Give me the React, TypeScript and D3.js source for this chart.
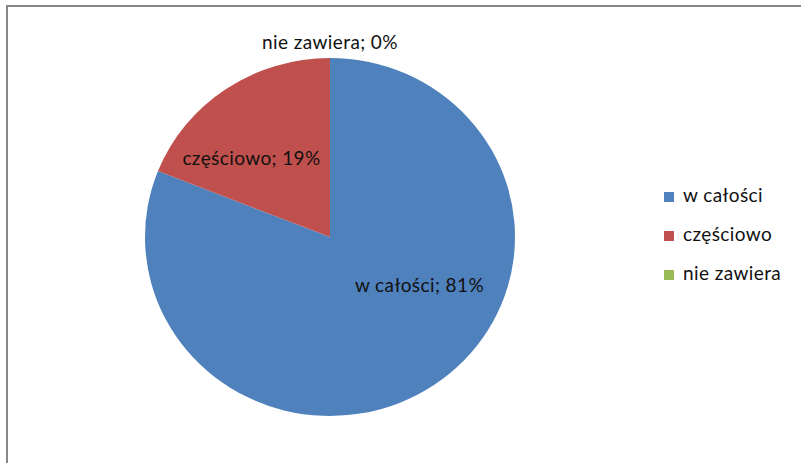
import React from "react";
import * as d3 from "d3";

const categories = ["w całości", "częściowo", "nie zawiera"];
const values = [81, 19, 0];
const percentLabels = ["81%", "19%", "0%"];
const colors = ["#4F81BD", "#C0504D", "#9BBB59"];

const W = 801;
const H = 463;
const cx = 330;
const cy = 237;
const ry = 179;
const rx = 185;

export default function App() {
  const data = categories.map((c, i) => ({ c, v: values[i], p: percentLabels[i], col: colors[i] }));
  const pie = d3.pie<any>().sort(null).value((d) => d.v);
  const arcs = pie(data);
  const arc = d3.arc<any>().innerRadius(0).outerRadius(ry);
  const sx = rx / ry;

  const labelPos = (a: any) => {
    if (a.endAngle - a.startAngle < 1e-6) {
      const ang = a.startAngle;
      return [Math.sin(ang) * (ry + 15) * sx, -Math.cos(ang) * (ry + 15)];
    }
    const mid = (a.startAngle + a.endAngle) / 2;
    const r = ry * 0.62;
    return [Math.sin(mid) * r * sx, -Math.cos(mid) * r];
  };

  const labelOffsets: [number, number][] = [
    [25, -42],
    [-14, 15],
    [0, 1],
  ];

  const font = "Lato, 'Open Sans', sans-serif";

  return (
    <svg
      width={W}
      height={H}
      style={{ position: "absolute", left: 0, top: 0, display: "block", background: "#fff" }}
    >
      <rect x={0} y={0} width={W} height={H} fill="#fff" />
      <line x1={7} y1={6} x2={W} y2={6} stroke="#868686" strokeWidth={2} />
      <line x1={7} y1={5} x2={7} y2={H} stroke="#868686" strokeWidth={2} />
      <g transform={`translate(${cx},${cy}) scale(${sx},1)`}>
        {arcs.map((a, i) => (
          <path key={i} d={arc(a) || ""} fill={a.data.col} />
        ))}
      </g>
      <g transform={`translate(${cx},${cy})`} fontFamily={font} fontSize={19} letterSpacing={0.4} fill="#111">
        {arcs.map((a, i) => {
          const [x, y] = labelPos(a);
          const [ox, oy] = labelOffsets[i];
          return (
            <text key={i} x={x + ox} y={y + oy} textAnchor="middle" dominantBaseline="middle">
              {`${a.data.c}; ${a.data.p}`}
            </text>
          );
        })}
      </g>
      <g fontFamily={font} fontSize={19} letterSpacing={0.4} fill="#111">
        {data.map((d, i) => (
          <g key={i} transform={`translate(664,${197 + i * 39})`}>
            <rect x={0} y={-5} width={10} height={10} fill={d.col} />
            <text x={19} y={0} dominantBaseline="middle">
              {d.c}
            </text>
          </g>
        ))}
      </g>
    </svg>
  );
}
